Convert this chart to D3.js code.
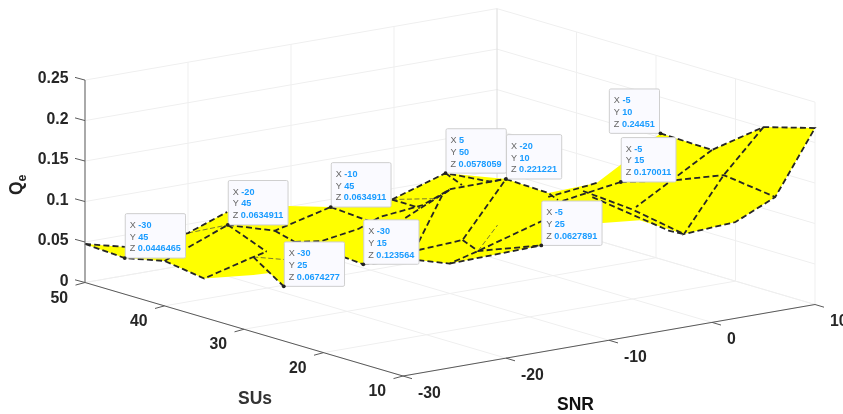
<!DOCTYPE html>
<html><head><meta charset="utf-8">
<style>html,body{margin:0;padding:0;background:#fff;overflow:hidden}svg{display:block;font-family:"Liberation Sans",Arial,sans-serif;filter:blur(0.35px)}</style>
<script src="https://cdn.jsdelivr.net/npm/d3@7"></script></head>
<body><svg id="c" width="843" height="414"></svg>
<script>
// ---- data (SNR, SUs, Qe) ----
const snrTicks=[-30,-20,-10,0,10];
const susTicks=[10,20,30,40,50];
const qeTicks=[0,0.05,0.1,0.15,0.2,0.25];
const qeTickLabels=["0","0.05","0.1","0.15","0.2","0.25"];

const surfaceOutline=[[-30,50,.0476],[-26.1,50,.0353],[-20,50,.039],[-16.2,50,.0566],[-10.3,50,.051],[-10,45,.0634911],[-.2,50,.0367],[5,50,.0578059],[-20,10,.221221],[-15.9,10,.195],[-11.2,10,.1969],[-8.9,10,.214],[-5,10,.24451],[0,10,.213],[5,10,.2302],[10,10,.218],[10,15,.1183],[10,20,.073],[5,20,.0692],[.7,20,.0958],[-2.9,20,.1002],[-5,25,.0627891],[-13.9,25,.06],[-17,25,.0712],[-30,15,.123564],[-27.9,20,.1128],[-30,25,.0674277],[-27.5,30,.0639],[-29.1,30,.065],[-30,35,.0483],[-30,40,.0555],[-30,45,.0446465]];

const meshLines=[
 [[-30,50,.0476],[-30,45,.0446465],[-30,40,.0555],[-30,35,.0483],[-29.1,30,.0873],[-27.8,30,.091]],
 [[-30,50,.0476],[-26.1,50,.0353],[-20,50,.039],[-16.2,50,.0566]],
 [[-30,40,.0555],[-20,45,.0634911]],
 [[-20,45,.0634911],[-19.3,40,.0692],[-10,45,.0634911]],
 [[-20,45,.0634911],[-27.8,30,.091]],
 [[-29.1,30,.0873],[-30,25,.0674277]],
 [[-19.3,40,.0692],[-21.2,35,.074],[-27.9,20,.1128],[-30,15,.123564]],
 [[-21.2,35,.074],[-18.6,35,.0694],[-18.9,30,.0994],[-16.8,30,.1095],[-16.5,25,.1381],[-13.8,25,.1519],[-20,10,.221221]],
 [[-10,45,.0634911],[-17.6,30,.105]],
 [[-18.2,25,.1258],[-13.8,25,.1519]],
 [[-16.9,25,.0933],[-14.6,25,.1463],[-13.8,25,.1519]],
 [[-.2,50,.0367],[-16.8,25,.135]],
 [[-.2,50,.0367],[5,50,.0578059],[-21.6,10,.2217],[-20,10,.221221]],
 [[5,50,.0578059],[-12.7,25,.1544]],
 [[-16.9,25,.0834],[-16.5,20,.1093],[-20,10,.221221]],
 [[-16.5,20,.1093],[-15,20,.0924],[-5,25,.0627891]],
 [[-30,15,.123564],[-17,25,.0712],[-13.9,25,.06],[-15,20,.0924],[-8.8,20,.1157]],
 [[-13.9,25,.06],[-5,25,.0627891]],
 [[-20,10,.221221],[-15.9,10,.195],[-11.1,15,.1612]],
 [[-11.2,10,.1969],[-15.9,10,.19]],
 [[-5,15,.170011],[-11.3,15,.1579]],
 [[-4.8,20,.144],[0,20,.1105],[5,20,.0692]],
 [[-3.9,20,.1345],[3.6,20,.0761],[5,20,.0692]],
 [[0,10,.213],[.34,20,.1129]],
 [[-5,15,.170011],[0,15,.1608],[5,15,.1565],[10,15,.1183]],
 [[5,10,.2302],[5,15,.1565],[5,20,.0692],[10,20,.073],[10,15,.1183],[10,10,.218],[5,10,.2302],[0,10,.213],[-5,10,.24451]]
];
const thinMeshLines=[
 [[-20,50,.039],[-20,45,.0634911]],
 [[-29.1,30,.0873],[-26.1,30,.0775]],
 [[-.2,50,.0367],[-15.3,25,.1434]],
 [[-15,20,.0924],[-13.1,20,.1203]]
];
const tipSnr=[-30,-20,-10,-30,-30,5,-20,-5,-5,-5];
const tipSus=[45,45,45,25,15,50,10,25,10,15];
const tipQe=[0.0446465,0.0634911,0.0634911,0.0674277,0.123564,0.0578059,0.221221,0.0627891,0.24451,0.170011];
const tipOnLeft=[false,false,false,false,false,false,false,false,true,false];

// ---- projection: an orthographic view of the 3-D box built from linear scales ----
const snrX=d3.scaleLinear([-30,10],[0,412]), snrY=d3.scaleLinear([-30,10],[0,-71.5]);
const susX=d3.scaleLinear([10,50],[0,-318]), susY=d3.scaleLinear([10,50],[0,-93.5]);
const qeY=d3.scaleLinear([0,0.25],[0,-202.4]);
const origin=[403,376];
const P=(s,u,q)=>[origin[0]+snrX(s)+susX(u), origin[1]+snrY(s)+susY(u)+qeY(q)];

const svg=d3.select("#c");
const line=d3.line();
const seg=(g,a,b,col,w)=>g.append("line").attr("x1",a[0]).attr("y1",a[1]).attr("x2",b[0]).attr("y2",b[1]).attr("stroke",col).attr("stroke-width",w);

// grid
const grid=svg.append("g"), gc="#efefef";
qeTicks.forEach(q=>{
  seg(grid,P(-30,50,q),P(10,50,q),gc,1);
  seg(grid,P(10,50,q),P(10,10,q),gc,1);
});
snrTicks.forEach(s=>{
  seg(grid,P(s,50,0),P(s,50,.25),s===10?"#dcdcdc":gc,1);
  seg(grid,P(s,10,0),P(s,50,0),gc,1);
});
susTicks.forEach(u=>{
  if(u!==50) seg(grid,P(10,u,0),P(10,u,.25),gc,1);
  seg(grid,P(-30,u,0),P(10,u,0),gc,1);
});

// surface
const toPts=a=>a.map(d=>P(d[0],d[1],d[2]));
svg.append("path").attr("d",line(toPts(surfaceOutline))+"Z").attr("fill","#ffff00");
svg.append("g").selectAll("path").data(thinMeshLines).join("path")
  .attr("d",d=>line(toPts(d))).attr("fill","none").attr("stroke","#444").attr("stroke-width",.7).attr("stroke-dasharray","5 2.5");
svg.append("g").selectAll("path").data(meshLines).join("path")
  .attr("d",d=>line(toPts(d))).attr("fill","none").attr("stroke","#262626").attr("stroke-width",1.8).attr("stroke-dasharray","6 3.2");

// axes
const ax=svg.append("g"), ac="#595959";
seg(ax,P(-30,50,0),P(-30,50,.25),"#777",1.2);
seg(ax,P(-30,50,0),P(-30,10,0),ac,1);
seg(ax,P(-30,10,0),P(10,10,0),ac,1);
const lab=(x,y,t,anchor,size,col)=>svg.append("text").attr("x",x).attr("y",y).attr("text-anchor",anchor).attr("font-size",size).attr("font-weight","bold").attr("fill",col||"#262626").text(t);
qeTicks.forEach((q,i)=>{const p=P(-30,50,q);
  seg(ax,p,[p[0]-10,p[1]-2.7],ac,1);
  lab(68.5,p[1]+3,qeTickLabels[i],"end",15.8);
});
susTicks.forEach(u=>{const p=P(-30,u,0);
  seg(ax,p,[p[0]-9.5,p[1]+2.6],ac,1);
  lab(p[0]-17,p[1]+20,u,"end",15.8);
});
snrTicks.forEach(s=>{const p=P(s,10,0);
  seg(ax,p,[p[0]+9,p[1]+2.7],ac,1);
  lab(p[0]+15,p[1]+21.5,s,"start",15.8);
});
lab(255,404,"SUs","middle",17.5,"#333");
lab(575.5,410,"SNR","middle",17.5,"#111");
const q=svg.append("text").attr("transform","translate(22,195) rotate(-90)").attr("font-weight","bold").attr("font-size",17.5).attr("fill","#222").text("Q");
q.append("tspan").attr("dy",4).attr("font-size",12.5).text("e");

// data tips
const tips=svg.append("g");
tipSnr.forEach((s,i)=>{
  const p=P(s,tipSus[i],tipQe[i]);
  const g=tips.append("g");
  const rect=g.append("rect").attr("rx",1.5).attr("fill","#fafaff").attr("stroke","#cfcfcf").attr("stroke-width",1);
  const rows=[["X",s],["Y",tipSus[i]],["Z",tipQe[i]]];
  let w=0;
  const texts=rows.map((r,k)=>{
    const t=g.append("text").attr("y",14+k*11.9).attr("font-size",9.1);
    t.append("tspan").attr("fill","#666").text(r[0]+" ");
    t.append("tspan").attr("fill","#1a9cff").attr("font-weight","bold").text(r[1]);
    w=Math.max(w,t.node().getComputedTextLength());
    return t;
  });
  const W=w+9.2,H=44.4;
  const x0=tipOnLeft[i]?p[0]-W-1:p[0]+.5, y0=p[1]-H;
  rect.attr("x",0).attr("y",0).attr("width",W).attr("height",H);
  texts.forEach(t=>t.attr("x",4.5));
  g.attr("transform",`translate(${x0},${y0})`);
});
tips.selectAll("circle").data(tipSnr.map((s,i)=>P(s,tipSus[i],tipQe[i]))).join("circle")
  .attr("cx",d=>d[0]).attr("cy",d=>d[1]).attr("r",1.9).attr("fill","#222");
</script></body></html>
